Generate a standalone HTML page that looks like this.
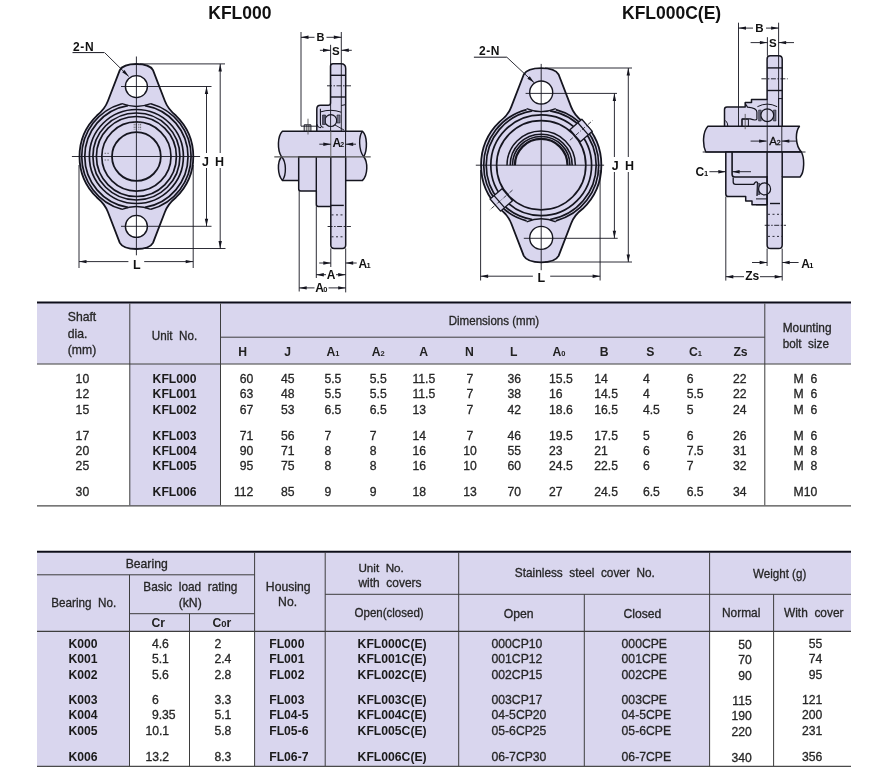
<!DOCTYPE html>
<html><head><meta charset="utf-8"><style>
html,body{margin:0;padding:0;background:#fff;width:887px;height:774px;overflow:hidden}
svg{display:block;font-family:"Liberation Sans",sans-serif;will-change:transform}
</style></head><body>
<svg width="887" height="774" viewBox="0 0 887 774">
<rect width="887" height="774" fill="#fff"/>
<text x="208.30" y="18.90" font-size="17.5" font-weight="bold" text-anchor="start" fill="#111"  >KFL000</text>
<text x="622.00" y="18.60" font-size="17.5" font-weight="bold" text-anchor="start" fill="#111"  >KFL000C(E)</text>
<path d="M119.80,70.10 C122.80,64.60 129.80,64.00 136.40,64.00 C143.00,64.00 150.00,64.60 153.00,70.10 L164.90,101.00 Q167.90,109.00 175.90,115.54 A56.90 56.90 0 0 1 175.90,197.46 Q167.90,204.00 164.90,212.00 L153.00,242.90 C150.00,248.40 143.00,249.00 136.40,249.00 C129.80,249.00 122.80,248.40 119.80,242.90 L107.90,212.00 Q104.90,204.00 96.90,197.46 A56.90 56.90 0 0 1 96.90,115.54 Q104.90,109.00 107.90,101.00 Z" fill="#d9d6ee" stroke="#15151f" stroke-width="1.8" stroke-linejoin="round" />
<circle cx="136.40" cy="86.60" r="11.00" fill="#fff" stroke="#15151f" stroke-width="1.4"/>
<circle cx="136.40" cy="226.40" r="11.00" fill="#fff" stroke="#15151f" stroke-width="1.4"/>
<circle cx="136.40" cy="156.50" r="24.40" fill="none" stroke="#15151f" stroke-width="1.8"/>
<circle cx="136.40" cy="156.50" r="34.60" fill="none" stroke="#15151f" stroke-width="1.7"/>
<circle cx="136.40" cy="156.50" r="40.00" fill="none" stroke="#15151f" stroke-width="1.7"/>
<circle cx="136.40" cy="156.50" r="43.50" fill="none" stroke="#15151f" stroke-width="1.7"/>
<circle cx="136.40" cy="156.50" r="47.00" fill="none" stroke="#15151f" stroke-width="1.7"/>
<path d="M127.90,105.60 A51.60 51.60 0 0 0 127.90,207.40" fill="none" stroke="#15151f" stroke-width="1.7"/>
<path d="M144.90,105.60 A51.60 51.60 0 0 1 144.90,207.40" fill="none" stroke="#15151f" stroke-width="1.7"/>
<path d="M121.90,103.76 A54.70 54.70 0 0 0 121.90,209.24" fill="none" stroke="#15151f" stroke-width="1.7"/>
<path d="M150.90,103.76 A54.70 54.70 0 0 1 150.90,209.24" fill="none" stroke="#15151f" stroke-width="1.7"/>
<path d="M121.90,209.30 Q136.40,203.70 150.90,209.30" fill="none" stroke="#15151f" stroke-width="1.4"/>
<path d="M121.90,103.70 Q136.40,109.30 150.90,103.70" fill="none" stroke="#15151f" stroke-width="1.4"/>
<line x1="134.20" y1="121.00" x2="134.20" y2="130.00" stroke="#555" stroke-width="0.8" stroke-dasharray="1.6 1.2"/>
<line x1="136.00" y1="121.00" x2="136.00" y2="130.00" stroke="#555" stroke-width="0.8" stroke-dasharray="1.6 1.2"/>
<line x1="138.80" y1="121.00" x2="138.80" y2="130.00" stroke="#555" stroke-width="0.8" stroke-dasharray="1.6 1.2"/>
<line x1="140.60" y1="121.00" x2="140.60" y2="130.00" stroke="#555" stroke-width="0.8" stroke-dasharray="1.6 1.2"/>
<line x1="104.50" y1="153.30" x2="110.00" y2="153.30" stroke="#555" stroke-width="0.8" stroke-dasharray="1.6 1.2"/>
<line x1="104.50" y1="160.00" x2="110.00" y2="160.00" stroke="#555" stroke-width="0.8" stroke-dasharray="1.6 1.2"/>
<line x1="136.40" y1="56.50" x2="136.40" y2="255.30" stroke="#15151f" stroke-width="0.9" />
<line x1="71.90" y1="156.50" x2="200.10" y2="156.50" stroke="#15151f" stroke-width="0.9" />
<line x1="121.00" y1="86.50" x2="211.50" y2="86.50" stroke="#15151f" stroke-width="0.9" />
<line x1="121.00" y1="226.30" x2="211.50" y2="226.30" stroke="#15151f" stroke-width="0.9" />
<line x1="140.00" y1="63.90" x2="225.00" y2="63.90" stroke="#15151f" stroke-width="0.9" />
<line x1="140.00" y1="248.50" x2="225.50" y2="248.50" stroke="#15151f" stroke-width="0.9" />
<line x1="206.50" y1="86.50" x2="206.50" y2="153.00" stroke="#15151f" stroke-width="0.9" />
<line x1="206.50" y1="168.00" x2="206.50" y2="226.30" stroke="#15151f" stroke-width="0.9" />
<path d="M206.50,86.50 L208.20,94.00 L204.80,94.00 Z" fill="#15151f"/>
<path d="M206.50,226.30 L204.80,218.80 L208.20,218.80 Z" fill="#15151f"/>
<line x1="220.20" y1="63.90" x2="220.20" y2="153.00" stroke="#15151f" stroke-width="0.9" />
<line x1="220.20" y1="168.00" x2="220.20" y2="248.50" stroke="#15151f" stroke-width="0.9" />
<path d="M220.20,63.90 L221.90,71.40 L218.50,71.40 Z" fill="#15151f"/>
<path d="M220.20,248.50 L218.50,241.00 L221.90,241.00 Z" fill="#15151f"/>
<text x="205.50" y="165.60" font-size="12.5" font-weight="bold" text-anchor="middle" fill="#111"  >J</text>
<text x="219.60" y="165.60" font-size="12.5" font-weight="bold" text-anchor="middle" fill="#111"  >H</text>
<line x1="79.00" y1="165.00" x2="79.00" y2="268.00" stroke="#15151f" stroke-width="0.9" />
<line x1="193.20" y1="165.00" x2="193.20" y2="268.00" stroke="#15151f" stroke-width="0.9" />
<line x1="79.00" y1="261.60" x2="128.40" y2="261.60" stroke="#15151f" stroke-width="0.9" />
<line x1="144.20" y1="261.60" x2="193.20" y2="261.60" stroke="#15151f" stroke-width="0.9" />
<path d="M79.00,261.60 L86.50,259.90 L86.50,263.30 Z" fill="#15151f"/>
<path d="M193.20,261.60 L185.70,263.30 L185.70,259.90 Z" fill="#15151f"/>
<text x="136.80" y="268.50" font-size="12.5" font-weight="bold" text-anchor="middle" fill="#111"  >L</text>
<text x="72.90" y="50.80" font-size="12" font-weight="bold" text-anchor="start" fill="#111"  letter-spacing="0.7">2-N</text>
<line x1="72.50" y1="52.60" x2="104.30" y2="52.60" stroke="#15151f" stroke-width="1.0" />
<line x1="104.60" y1="52.60" x2="128.70" y2="76.40" stroke="#15151f" stroke-width="0.9" />
<path d="M128.70,76.40 L122.17,72.34 L124.56,69.92 Z" fill="#15151f"/>
<path d="M523.77,74.48 C526.92,68.70 534.27,68.07 541.20,68.07 C548.13,68.07 555.48,68.70 558.63,74.48 L571.12,106.92 Q574.28,115.32 582.68,121.62 A60.16 60.16 0 0 1 582.68,208.78 Q574.28,215.07 571.12,223.47 L558.63,255.92 C555.48,261.69 548.13,262.32 541.20,262.32 C534.27,262.32 526.92,261.69 523.77,255.92 L511.28,223.47 Q508.13,215.07 499.73,208.78 A60.16 60.16 0 0 1 499.73,121.62 Q508.13,115.32 511.28,106.92 Z" fill="#d9d6ee" stroke="#15151f" stroke-width="1.8" stroke-linejoin="round" />
<circle cx="541.20" cy="92.50" r="11.50" fill="#fff" stroke="#15151f" stroke-width="1.4"/>
<circle cx="541.20" cy="237.90" r="11.50" fill="#fff" stroke="#15151f" stroke-width="1.4"/>
<circle cx="541.20" cy="165.20" r="44.60" fill="none" stroke="#15151f" stroke-width="1.7"/>
<circle cx="541.20" cy="165.20" r="50.40" fill="none" stroke="#15151f" stroke-width="1.7"/>
<path d="M532.28,110.93 A55.00 55.00 0 0 0 532.28,219.47" fill="none" stroke="#15151f" stroke-width="1.7"/>
<path d="M550.12,110.93 A55.00 55.00 0 0 1 550.12,219.47" fill="none" stroke="#15151f" stroke-width="1.7"/>
<path d="M526.61,109.58 A57.50 57.50 0 0 0 526.61,220.82" fill="none" stroke="#15151f" stroke-width="1.7"/>
<path d="M555.80,109.58 A57.50 57.50 0 0 1 555.80,220.82" fill="none" stroke="#15151f" stroke-width="1.7"/>
<path d="M526.61,221.79 Q541.20,215.70 555.80,221.79" fill="none" stroke="#15151f" stroke-width="1.4"/>
<path d="M526.61,108.60 Q541.20,114.69 555.80,108.60" fill="none" stroke="#15151f" stroke-width="1.4"/>
<path d="M507.00,165.20 A34.2 34.2 0 0 1 575.40,165.20" fill="none" stroke="#15151f" stroke-width="1.5"/>
<path d="M510.20,165.20 A31.0 31.0 0 0 1 572.20,165.20" fill="none" stroke="#15151f" stroke-width="1.6"/>
<path d="M512.50,165.20 A28.7 28.7 0 0 1 569.90,165.20" fill="none" stroke="#15151f" stroke-width="1.6"/>
<path d="M514.90,165.20 A26.3 26.3 0 0 1 567.50,165.20" fill="none" stroke="#15151f" stroke-width="2.2"/>
<path d="M569.91,129.64 L581.84,119.27 L592.33,131.35 L580.41,141.72 Z" fill="#d9d6ee" stroke="#15151f" stroke-width="1.3" stroke-linejoin="round" />
<line x1="569.88" y1="140.27" x2="592.52" y2="120.59" stroke="#15151f" stroke-width="0.8" stroke-dasharray="4 1.5 1 1.5"/>
<line x1="577.84" y1="122.75" x2="588.33" y2="134.83" stroke="#15151f" stroke-width="1.3" />
<path d="M512.49,200.76 L500.56,211.13 L490.07,199.05 L501.99,188.68 Z" fill="#d9d6ee" stroke="#15151f" stroke-width="1.3" stroke-linejoin="round" />
<line x1="512.52" y1="190.13" x2="489.88" y2="209.81" stroke="#15151f" stroke-width="0.8" stroke-dasharray="4 1.5 1 1.5"/>
<line x1="504.56" y1="207.65" x2="494.07" y2="195.57" stroke="#15151f" stroke-width="1.3" />
<line x1="541.20" y1="63.90" x2="541.20" y2="270.20" stroke="#15151f" stroke-width="0.9" />
<line x1="475.80" y1="165.20" x2="604.10" y2="165.20" stroke="#15151f" stroke-width="0.9" />
<line x1="525.60" y1="93.40" x2="617.00" y2="93.40" stroke="#15151f" stroke-width="0.9" />
<line x1="523.80" y1="238.30" x2="617.70" y2="238.30" stroke="#15151f" stroke-width="0.9" />
<line x1="545.00" y1="68.00" x2="632.00" y2="68.00" stroke="#15151f" stroke-width="0.9" />
<line x1="545.00" y1="262.00" x2="632.00" y2="262.00" stroke="#15151f" stroke-width="0.9" />
<line x1="614.40" y1="93.40" x2="614.40" y2="157.00" stroke="#15151f" stroke-width="0.9" />
<line x1="614.40" y1="172.00" x2="614.40" y2="238.30" stroke="#15151f" stroke-width="0.9" />
<path d="M614.40,93.40 L616.10,100.90 L612.70,100.90 Z" fill="#15151f"/>
<path d="M614.40,238.30 L612.70,230.80 L616.10,230.80 Z" fill="#15151f"/>
<line x1="628.30" y1="68.00" x2="628.30" y2="157.00" stroke="#15151f" stroke-width="0.9" />
<line x1="628.30" y1="172.00" x2="628.30" y2="262.00" stroke="#15151f" stroke-width="0.9" />
<path d="M628.30,68.00 L630.00,75.50 L626.60,75.50 Z" fill="#15151f"/>
<path d="M628.30,262.00 L626.60,254.50 L630.00,254.50 Z" fill="#15151f"/>
<text x="615.20" y="169.80" font-size="12.5" font-weight="bold" text-anchor="middle" fill="#111"  >J</text>
<text x="629.40" y="169.80" font-size="12.5" font-weight="bold" text-anchor="middle" fill="#111"  >H</text>
<line x1="480.60" y1="170.00" x2="480.60" y2="280.50" stroke="#15151f" stroke-width="0.9" />
<line x1="600.10" y1="170.00" x2="600.10" y2="280.50" stroke="#15151f" stroke-width="0.9" />
<line x1="480.60" y1="276.20" x2="532.90" y2="276.20" stroke="#15151f" stroke-width="0.9" />
<line x1="550.20" y1="276.20" x2="600.10" y2="276.20" stroke="#15151f" stroke-width="0.9" />
<path d="M480.60,276.20 L488.10,274.50 L488.10,277.90 Z" fill="#15151f"/>
<path d="M600.10,276.20 L592.60,277.90 L592.60,274.50 Z" fill="#15151f"/>
<text x="541.40" y="281.80" font-size="12.5" font-weight="bold" text-anchor="middle" fill="#111"  >L</text>
<text x="479.10" y="55.00" font-size="12" font-weight="bold" text-anchor="start" fill="#111"  letter-spacing="0.5">2-N</text>
<line x1="473.90" y1="57.20" x2="506.80" y2="57.20" stroke="#15151f" stroke-width="1.0" />
<line x1="506.80" y1="57.20" x2="534.00" y2="82.60" stroke="#15151f" stroke-width="0.9" />
<path d="M534.00,82.60 L527.39,78.67 L529.73,76.21 Z" fill="#15151f"/>
<path d="M282.4,131.2 L362.5,131.2 C367.5,136 367.5,150 363.7,156.8 C368,162 368,175 362.5,180.4 L282.4,180.4 C277.5,175 277,162 281.6,156.8 C277,150 277.5,136 282.4,131.2 Z" fill="#d9d6ee" stroke="#15151f" stroke-width="1.5" stroke-linejoin="round" />
<path d="M362.5,131.2 C358.5,136 358.5,150 363.7,156.8" fill="none" stroke="#15151f" stroke-width="1.4" stroke-linejoin="round" />
<path d="M281.6,156.8 C286.5,162 286.5,175 282.4,180.4" fill="none" stroke="#15151f" stroke-width="1.4" stroke-linejoin="round" />
<path d="M298.7,156.8 L298.7,189 Q298.7,190.9 300.6,190.9 L316.3,190.9 L316.3,204.5 Q316.3,206.4 318.2,206.4 L330.8,206.6 L330.8,245 Q330.8,248.4 334.2,248.4 L342.3,248.4 Q345.7,248.4 345.7,245 L345.7,156.8 Z" fill="#d9d6ee" stroke="#15151f" stroke-width="1.5" stroke-linejoin="round" />
<line x1="316.30" y1="156.80" x2="316.30" y2="190.90" stroke="#15151f" stroke-width="1.4" />
<line x1="330.80" y1="156.80" x2="330.80" y2="206.60" stroke="#15151f" stroke-width="1.4" />
<path d="M345.7,131.2 L345.7,68.5 Q345.7,63.7 340.9,63.7 L333,63.7 Q330.5,63.7 330.5,66.2 L330.5,103 Q330.5,105.3 328.2,105.3 L320.5,105.3 Q316.8,105.3 316.8,109 L316.8,131.2 Z" fill="#d9d6ee" stroke="#15151f" stroke-width="1.5" stroke-linejoin="round" />
<line x1="330.50" y1="75.30" x2="345.70" y2="75.30" stroke="#15151f" stroke-width="1.4" />
<line x1="330.50" y1="97.00" x2="345.70" y2="97.00" stroke="#15151f" stroke-width="1.4" />
<path d="M320.4,108.8 L320.4,123 Q320.4,127.4 323.5,127.2" fill="none" stroke="#15151f" stroke-width="1.1" stroke-linejoin="round" />
<path d="M316.8,124 Q317.2,127.6 321,127.6" fill="none" stroke="#15151f" stroke-width="1.1" stroke-linejoin="round" />
<path d="M321,111.8 Q330.8,108.6 341.2,112.2" fill="none" stroke="#15151f" stroke-width="1.0" stroke-linejoin="round" />
<circle cx="330.8" cy="120.6" r="5.9" fill="#d9d6ee" stroke="#15151f" stroke-width="1.2"/>
<path d="M322.5,115 L325.5,115 L325.5,124.5 L322.5,124.5 Z" fill="#55556a" stroke="#15151f" stroke-width="0.6" stroke-linejoin="round" />
<path d="M337,115 L340,115 L340,123 L337,123 Z" fill="#77778a" stroke="#15151f" stroke-width="0.6" stroke-linejoin="round" />
<path d="M335,125 L344,130" fill="none" stroke="#15151f" stroke-width="0.9" stroke-linejoin="round" />
<line x1="341.30" y1="105.50" x2="345.70" y2="104.60" stroke="#15151f" stroke-width="1.0" />
<path d="M304.2,131.2 L304.2,124.8 L310.9,124.8 L310.9,131.2" fill="none" stroke="#15151f" stroke-width="1.0" stroke-linejoin="round" />
<line x1="306.30" y1="125.00" x2="306.30" y2="131.00" stroke="#15151f" stroke-width="0.7" />
<line x1="309.00" y1="125.00" x2="309.00" y2="131.00" stroke="#15151f" stroke-width="0.7" />
<line x1="308.00" y1="118.70" x2="308.00" y2="134.50" stroke="#444" stroke-width="0.8" />
<line x1="301.00" y1="126.20" x2="316.80" y2="126.20" stroke="#15151f" stroke-width="0.9" />
<line x1="327.00" y1="85.80" x2="351.20" y2="85.80" stroke="#15151f" stroke-width="0.9" stroke-dasharray="5 1.5 1.5 1.5"/>
<line x1="330.80" y1="205.40" x2="343.80" y2="205.40" stroke="#15151f" stroke-width="1.4" />
<line x1="331.50" y1="214.90" x2="345.00" y2="214.90" stroke="#15151f" stroke-width="0.9" stroke-dasharray="2 2.5"/>
<line x1="331.50" y1="236.80" x2="345.00" y2="236.80" stroke="#15151f" stroke-width="0.9" stroke-dasharray="2 2.5"/>
<line x1="327.60" y1="226.50" x2="350.90" y2="226.50" stroke="#15151f" stroke-width="0.9" stroke-dasharray="5 1.5 1.5 1.5"/>
<line x1="274.30" y1="156.90" x2="370.70" y2="156.90" stroke="#555" stroke-width="1.3" />
<line x1="301.00" y1="32.00" x2="301.00" y2="126.20" stroke="#15151f" stroke-width="0.9" />
<line x1="341.30" y1="32.00" x2="341.30" y2="131.20" stroke="#15151f" stroke-width="0.9" />
<line x1="330.60" y1="44.80" x2="330.60" y2="131.20" stroke="#15151f" stroke-width="0.9" />
<line x1="330.80" y1="131.20" x2="330.80" y2="156.80" stroke="#666" stroke-width="1.0" />
<line x1="299.20" y1="190.90" x2="299.20" y2="291.50" stroke="#15151f" stroke-width="0.9" />
<line x1="316.30" y1="206.40" x2="316.30" y2="278.00" stroke="#15151f" stroke-width="0.9" />
<line x1="330.80" y1="248.40" x2="330.80" y2="267.00" stroke="#15151f" stroke-width="0.9" />
<line x1="345.70" y1="248.40" x2="345.70" y2="292.40" stroke="#15151f" stroke-width="0.9" />
<line x1="301.00" y1="37.30" x2="314.50" y2="37.30" stroke="#15151f" stroke-width="0.9" />
<line x1="326.50" y1="37.30" x2="341.30" y2="37.30" stroke="#15151f" stroke-width="0.9" />
<path d="M301.00,37.30 L308.50,35.60 L308.50,39.00 Z" fill="#15151f"/>
<path d="M341.30,37.30 L333.80,39.00 L333.80,35.60 Z" fill="#15151f"/>
<text x="320.60" y="41.00" font-size="11" font-weight="bold" text-anchor="middle" fill="#111"  >B</text>
<line x1="319.90" y1="50.30" x2="330.50" y2="50.30" stroke="#15151f" stroke-width="0.9" />
<line x1="341.30" y1="50.30" x2="351.80" y2="50.30" stroke="#15151f" stroke-width="0.9" />
<path d="M330.50,50.30 L323.00,52.00 L323.00,48.60 Z" fill="#15151f"/>
<path d="M341.30,50.30 L348.80,48.60 L348.80,52.00 Z" fill="#15151f"/>
<text x="335.90" y="54.70" font-size="11.5" font-weight="bold" text-anchor="middle" fill="#111"  >S</text>
<line x1="319.30" y1="144.20" x2="330.80" y2="144.20" stroke="#15151f" stroke-width="0.9" />
<line x1="345.70" y1="144.20" x2="356.00" y2="144.20" stroke="#15151f" stroke-width="0.9" />
<path d="M330.80,144.20 L323.30,145.90 L323.30,142.50 Z" fill="#15151f"/>
<path d="M345.70,144.20 L353.20,142.50 L353.20,145.90 Z" fill="#15151f"/>
<text x="332.60" y="146.60" font-size="12" font-weight="bold" text-anchor="start" fill="#111"  >A</text>
<text x="340.20" y="146.60" font-size="7" font-weight="bold" text-anchor="start" fill="#111"  >2</text>
<line x1="345.60" y1="131.20" x2="345.60" y2="156.80" stroke="#15151f" stroke-width="1.0" />
<line x1="319.20" y1="263.00" x2="330.80" y2="263.00" stroke="#15151f" stroke-width="0.9" />
<line x1="345.70" y1="263.00" x2="356.70" y2="263.00" stroke="#15151f" stroke-width="0.9" />
<path d="M330.80,263.00 L323.30,264.70 L323.30,261.30 Z" fill="#15151f"/>
<path d="M345.70,263.00 L353.20,261.30 L353.20,264.70 Z" fill="#15151f"/>
<text x="358.60" y="267.80" font-size="12" font-weight="bold" text-anchor="start" fill="#111"  >A</text>
<text x="366.60" y="267.80" font-size="7.5" font-weight="bold" text-anchor="start" fill="#111"  >1</text>
<line x1="316.30" y1="274.70" x2="326.00" y2="274.70" stroke="#15151f" stroke-width="0.9" />
<line x1="336.00" y1="274.70" x2="345.70" y2="274.70" stroke="#15151f" stroke-width="0.9" />
<path d="M316.30,274.70 L323.80,273.00 L323.80,276.40 Z" fill="#15151f"/>
<path d="M345.70,274.70 L338.20,276.40 L338.20,273.00 Z" fill="#15151f"/>
<text x="331.20" y="279.10" font-size="12" font-weight="bold" text-anchor="middle" fill="#111"  >A</text>
<line x1="299.20" y1="287.90" x2="314.50" y2="287.90" stroke="#15151f" stroke-width="0.9" />
<line x1="328.50" y1="287.90" x2="345.70" y2="287.90" stroke="#15151f" stroke-width="0.9" />
<path d="M299.20,287.90 L306.70,286.20 L306.70,289.60 Z" fill="#15151f"/>
<path d="M345.70,287.90 L338.20,289.60 L338.20,286.20 Z" fill="#15151f"/>
<text x="315.20" y="291.70" font-size="12" font-weight="bold" text-anchor="start" fill="#111"  >A</text>
<text x="323.20" y="291.70" font-size="7.5" font-weight="bold" text-anchor="start" fill="#111"  >0</text>
<path d="M707.9,126.2 L799.4,126.2 C795.2,132 795,145 801.4,152 L705.8,152 C702.5,145 702.5,132 707.9,126.2 Z" fill="#d9d6ee" stroke="#15151f" stroke-width="1.5" stroke-linejoin="round" />
<path d="M725.8,152 L725.8,193.9 Q725.8,196.6 728.5,196.6 L745.7,196.6 L745.7,201.1 L752,201.1 L752,204.7 L767.1,204.7 L767.1,245 Q767.1,248.6 770.7,248.6 L778.6,248.6 Q782.2,248.6 782.2,245 L782.2,177 L800.1,177 C804.6,172 804.6,158 801.4,152 Z" fill="#d9d6ee" stroke="#15151f" stroke-width="1.5" stroke-linejoin="round" />
<line x1="767.10" y1="152.00" x2="767.10" y2="204.70" stroke="#15151f" stroke-width="1.5" />
<line x1="782.20" y1="152.00" x2="782.20" y2="177.00" stroke="#15151f" stroke-width="1.5" />
<path d="M732.1,152 L732.1,174.3 Q732.1,177 734.8,177 L767.1,177" fill="none" stroke="#15151f" stroke-width="1.6" stroke-linejoin="round" />
<path d="M733.2,177.5 L733.2,182 Q733.2,184.4 735.6,184.4 L753.8,184.4 Q755.5,180.8 757.5,182.5 L757,196" fill="none" stroke="#15151f" stroke-width="1.3" stroke-linejoin="round" />
<path d="M757.5,183.5 L760,183.5 L760,194.5 L757.5,194.5 Z" fill="#66667a" stroke="#15151f" stroke-width="0.5" stroke-linejoin="round" />
<circle cx="764.6" cy="188.9" r="6" fill="#d9d6ee" stroke="#15151f" stroke-width="1.2"/>
<line x1="767.10" y1="176.00" x2="767.10" y2="204.70" stroke="#15151f" stroke-width="1.5" />
<line x1="756.00" y1="198.90" x2="767.10" y2="198.90" stroke="#15151f" stroke-width="1.0" />
<line x1="756.00" y1="204.70" x2="767.10" y2="204.70" stroke="#15151f" stroke-width="1.2" />
<path d="M724.5,126.2 L724.5,109.6 Q724.5,107.1 727,107.1 L745.2,107.1 L745.2,102.6 L751.5,102.6 L751.5,99.5 L767.1,99.5 L767.1,59 Q767.1,55.8 770.3,55.8 L778.7,55.8 Q782.2,55.8 782.2,59.3 L782.2,126.2 Z" fill="#d9d6ee" stroke="#15151f" stroke-width="1.5" stroke-linejoin="round" />
<line x1="767.10" y1="67.90" x2="782.20" y2="67.90" stroke="#15151f" stroke-width="1.4" />
<line x1="767.10" y1="90.50" x2="782.20" y2="90.50" stroke="#15151f" stroke-width="1.4" />
<line x1="778.10" y1="98.60" x2="782.20" y2="98.60" stroke="#15151f" stroke-width="1.0" />
<path d="M758.6,110 L761.2,110 L761.2,121 L758.6,121 Z" fill="#66667a" stroke="#15151f" stroke-width="0.5" stroke-linejoin="round" />
<path d="M773.4,110 L776,110 L776,121 L773.4,121 Z" fill="#66667a" stroke="#15151f" stroke-width="0.5" stroke-linejoin="round" />
<circle cx="767.3" cy="115.2" r="6.4" fill="#d9d6ee" stroke="#15151f" stroke-width="1.2"/>
<path d="M757.4,106.7 Q767.2,101.5 777.2,106.7" fill="none" stroke="#15151f" stroke-width="1.0" stroke-linejoin="round" />
<path d="M745.2,103.5 L747.5,107.1 Q756.9,108 756.9,112 L756.9,119 Q756,121 750.2,118.9 L742,118.9 L742,126.2" fill="none" stroke="#15151f" stroke-width="1.2" stroke-linejoin="round" />
<path d="M742,126.2 L742,119.2 L748.4,119.2 L748.4,126.2" fill="none" stroke="#15151f" stroke-width="1.0" stroke-linejoin="round" />
<line x1="745.20" y1="113.90" x2="745.20" y2="129.20" stroke="#444" stroke-width="0.8" />
<path d="M725.5,120.5 Q728,123 727.8,126" fill="none" stroke="#15151f" stroke-width="1.0" stroke-linejoin="round" />
<line x1="778.60" y1="98.60" x2="778.60" y2="126.20" stroke="#15151f" stroke-width="0.9" />
<line x1="770.00" y1="203.50" x2="780.00" y2="203.50" stroke="#15151f" stroke-width="1.4" />
<line x1="768.00" y1="214.30" x2="782.00" y2="214.30" stroke="#15151f" stroke-width="0.9" stroke-dasharray="2 2.5"/>
<line x1="768.00" y1="236.40" x2="782.00" y2="236.40" stroke="#15151f" stroke-width="0.9" stroke-dasharray="2 2.5"/>
<line x1="764.70" y1="225.30" x2="786.00" y2="225.30" stroke="#15151f" stroke-width="0.9" stroke-dasharray="5 1.5 1.5 1.5"/>
<line x1="761.40" y1="78.80" x2="787.70" y2="78.80" stroke="#15151f" stroke-width="0.9" stroke-dasharray="5 1.5 1.5 1.5"/>
<line x1="702.70" y1="152.00" x2="805.50" y2="152.00" stroke="#15151f" stroke-width="0.9" />
<line x1="738.50" y1="22.70" x2="738.50" y2="126.20" stroke="#15151f" stroke-width="0.9" />
<line x1="778.60" y1="22.70" x2="778.60" y2="126.20" stroke="#15151f" stroke-width="0.9" />
<line x1="767.40" y1="37.20" x2="767.40" y2="55.80" stroke="#15151f" stroke-width="0.9" />
<line x1="767.10" y1="248.60" x2="767.10" y2="266.00" stroke="#15151f" stroke-width="0.9" />
<line x1="782.20" y1="248.60" x2="782.20" y2="280.60" stroke="#15151f" stroke-width="0.9" />
<line x1="725.80" y1="196.60" x2="725.80" y2="280.60" stroke="#15151f" stroke-width="0.9" />
<line x1="767.20" y1="99.50" x2="767.20" y2="152.00" stroke="#15151f" stroke-width="0.9" />
<line x1="781.80" y1="126.20" x2="781.80" y2="152.00" stroke="#15151f" stroke-width="0.9" />
<line x1="738.50" y1="28.10" x2="753.00" y2="28.10" stroke="#15151f" stroke-width="0.9" />
<line x1="766.00" y1="28.10" x2="778.60" y2="28.10" stroke="#15151f" stroke-width="0.9" />
<path d="M738.50,28.10 L746.00,26.40 L746.00,29.80 Z" fill="#15151f"/>
<path d="M778.60,28.10 L771.10,29.80 L771.10,26.40 Z" fill="#15151f"/>
<text x="759.50" y="31.90" font-size="11.5" font-weight="bold" text-anchor="middle" fill="#111"  >B</text>
<line x1="750.60" y1="42.60" x2="767.40" y2="42.60" stroke="#15151f" stroke-width="0.9" />
<line x1="778.60" y1="42.60" x2="794.00" y2="42.60" stroke="#15151f" stroke-width="0.9" />
<path d="M767.40,42.60 L759.90,44.30 L759.90,40.90 Z" fill="#15151f"/>
<path d="M778.60,42.60 L786.10,40.90 L786.10,44.30 Z" fill="#15151f"/>
<text x="772.80" y="46.60" font-size="11.5" font-weight="bold" text-anchor="middle" fill="#111"  >S</text>
<line x1="750.60" y1="141.10" x2="766.60" y2="141.10" stroke="#15151f" stroke-width="0.9" />
<line x1="781.80" y1="141.10" x2="796.00" y2="141.10" stroke="#15151f" stroke-width="0.9" />
<path d="M766.60,141.10 L759.10,142.80 L759.10,139.40 Z" fill="#15151f"/>
<path d="M781.80,141.10 L789.30,139.40 L789.30,142.80 Z" fill="#15151f"/>
<text x="769.30" y="145.00" font-size="11.5" font-weight="normal" text-anchor="start" fill="#111" stroke="#111" stroke-width="0.3" >A</text>
<text x="776.80" y="145.00" font-size="7" font-weight="normal" text-anchor="start" fill="#111" stroke="#111" stroke-width="0.3" >2</text>
<line x1="709.40" y1="171.70" x2="725.80" y2="171.70" stroke="#15151f" stroke-width="0.9" />
<path d="M725.80,171.70 L718.30,173.40 L718.30,170.00 Z" fill="#15151f"/>
<line x1="732.10" y1="171.70" x2="751.00" y2="171.70" stroke="#15151f" stroke-width="0.9" />
<path d="M732.10,171.70 L739.60,170.00 L739.60,173.40 Z" fill="#15151f"/>
<text x="695.60" y="175.90" font-size="12" font-weight="bold" text-anchor="start" fill="#111"  >C</text>
<text x="703.90" y="175.90" font-size="7.5" font-weight="bold" text-anchor="start" fill="#111"  >1</text>
<line x1="752.00" y1="262.50" x2="767.10" y2="262.50" stroke="#15151f" stroke-width="0.9" />
<path d="M767.10,262.50 L759.60,264.20 L759.60,260.80 Z" fill="#15151f"/>
<line x1="782.20" y1="262.50" x2="798.60" y2="262.50" stroke="#15151f" stroke-width="0.9" />
<path d="M782.20,262.50 L789.70,260.80 L789.70,264.20 Z" fill="#15151f"/>
<text x="801.30" y="268.00" font-size="12" font-weight="bold" text-anchor="start" fill="#111"  >A</text>
<text x="809.30" y="268.00" font-size="7.5" font-weight="bold" text-anchor="start" fill="#111"  >1</text>
<line x1="725.80" y1="276.70" x2="744.00" y2="276.70" stroke="#15151f" stroke-width="0.9" />
<line x1="760.00" y1="276.70" x2="782.20" y2="276.70" stroke="#15151f" stroke-width="0.9" />
<path d="M725.80,276.70 L733.30,275.00 L733.30,278.40 Z" fill="#15151f"/>
<path d="M782.20,276.70 L774.70,278.40 L774.70,275.00 Z" fill="#15151f"/>
<text x="745.20" y="280.20" font-size="12" font-weight="bold" text-anchor="start" fill="#111"  >Zs</text>
<rect x="37.00" y="303.20" width="814.00" height="60.60" fill="#d9d6ee"/>
<rect x="129.80" y="364.00" width="90.60" height="142.00" fill="#d9d6ee"/>
<line x1="37.00" y1="302.50" x2="851.00" y2="302.50" stroke="#0d0d1a" stroke-width="2.0" />
<line x1="37.00" y1="364.00" x2="851.00" y2="364.00" stroke="#3d3d3d" stroke-width="1.2" />
<line x1="37.00" y1="505.80" x2="851.00" y2="505.80" stroke="#4a4a4a" stroke-width="1.2" />
<line x1="220.50" y1="337.20" x2="764.80" y2="337.20" stroke="#3d3d3d" stroke-width="1.0" />
<line x1="129.80" y1="303.50" x2="129.80" y2="505.20" stroke="#3d3d3d" stroke-width="1.0" />
<line x1="220.50" y1="303.50" x2="220.50" y2="505.20" stroke="#3d3d3d" stroke-width="1.0" />
<line x1="764.80" y1="303.50" x2="764.80" y2="505.20" stroke="#3d3d3d" stroke-width="1.0" />
<text x="67.80" y="320.70" font-size="12.2" font-weight="normal" text-anchor="start" fill="#262626" stroke="#262626" stroke-width="0.3" >Shaft</text>
<text x="67.80" y="337.60" font-size="12.2" font-weight="normal" text-anchor="start" fill="#262626" stroke="#262626" stroke-width="0.3" >dia.</text>
<text x="67.80" y="354.20" font-size="12.2" font-weight="normal" text-anchor="start" fill="#262626" stroke="#262626" stroke-width="0.3" >(mm)</text>
<text x="151.80" y="340.40" font-size="12.2" font-weight="normal" text-anchor="start" fill="#262626" stroke="#262626" stroke-width="0.3" textLength="45.4" lengthAdjust="spacingAndGlyphs">Unit&#160;&#160;No.</text>
<text x="448.70" y="324.80" font-size="12.2" font-weight="normal" text-anchor="start" fill="#262626" stroke="#262626" stroke-width="0.3" textLength="90.5" lengthAdjust="spacingAndGlyphs">Dimensions (mm)</text>
<text x="782.70" y="331.70" font-size="12.2" font-weight="normal" text-anchor="start" fill="#262626" stroke="#262626" stroke-width="0.3" textLength="48.8" lengthAdjust="spacingAndGlyphs">Mounting</text>
<text x="782.70" y="347.60" font-size="12.2" font-weight="normal" text-anchor="start" fill="#262626" stroke="#262626" stroke-width="0.3" textLength="46.3" lengthAdjust="spacingAndGlyphs">bolt&#160;&#160;size</text>
<text x="242.70" y="355.50" font-size="12.2" font-weight="bold" text-anchor="middle" fill="#222"  >H</text>
<text x="287.60" y="355.50" font-size="12.2" font-weight="bold" text-anchor="middle" fill="#222"  >J</text>
<text x="333.00" y="355.5" font-size="12.2" font-weight="bold" text-anchor="middle" fill="#222">A<tspan font-size="7.5">1</tspan></text>
<text x="378.30" y="355.5" font-size="12.2" font-weight="bold" text-anchor="middle" fill="#222">A<tspan font-size="7.5">2</tspan></text>
<text x="423.70" y="355.50" font-size="12.2" font-weight="bold" text-anchor="middle" fill="#222"  >A</text>
<text x="469.30" y="355.50" font-size="12.2" font-weight="bold" text-anchor="middle" fill="#222"  >N</text>
<text x="513.70" y="355.50" font-size="12.2" font-weight="bold" text-anchor="middle" fill="#222"  >L</text>
<text x="559.00" y="355.5" font-size="12.2" font-weight="bold" text-anchor="middle" fill="#222">A<tspan font-size="7.5">0</tspan></text>
<text x="604.20" y="355.50" font-size="12.2" font-weight="bold" text-anchor="middle" fill="#222"  >B</text>
<text x="650.30" y="355.50" font-size="12.2" font-weight="bold" text-anchor="middle" fill="#222"  >S</text>
<text x="695.40" y="355.5" font-size="12.2" font-weight="bold" text-anchor="middle" fill="#222">C<tspan font-size="7.5">1</tspan></text>
<text x="740.50" y="355.5" font-size="12.2" font-weight="bold" text-anchor="middle" fill="#222">Zs</text>
<text x="82.40" y="382.60" font-size="12.2" font-weight="normal" text-anchor="middle" fill="#262626" stroke="#262626" stroke-width="0.3" >10</text>
<text x="152.60" y="382.60" font-size="12.2" font-weight="bold" text-anchor="start" fill="#1a1a1a"  >KFL000</text>
<text x="253.40" y="382.60" font-size="12.2" font-weight="normal" text-anchor="end" fill="#262626" stroke="#262626" stroke-width="0.3" >60</text>
<text x="281.10" y="382.60" font-size="12.2" font-weight="normal" text-anchor="start" fill="#262626" stroke="#262626" stroke-width="0.3" >45</text>
<text x="324.40" y="382.60" font-size="12.2" font-weight="normal" text-anchor="start" fill="#262626" stroke="#262626" stroke-width="0.3" >5.5</text>
<text x="369.80" y="382.60" font-size="12.2" font-weight="normal" text-anchor="start" fill="#262626" stroke="#262626" stroke-width="0.3" >5.5</text>
<text x="412.40" y="382.60" font-size="12.2" font-weight="normal" text-anchor="start" fill="#262626" stroke="#262626" stroke-width="0.3" >11.5</text>
<text x="470.00" y="382.60" font-size="12.2" font-weight="normal" text-anchor="middle" fill="#262626" stroke="#262626" stroke-width="0.3" >7</text>
<text x="507.50" y="382.60" font-size="12.2" font-weight="normal" text-anchor="start" fill="#262626" stroke="#262626" stroke-width="0.3" >36</text>
<text x="549.10" y="382.60" font-size="12.2" font-weight="normal" text-anchor="start" fill="#262626" stroke="#262626" stroke-width="0.3" >15.5</text>
<text x="594.30" y="382.60" font-size="12.2" font-weight="normal" text-anchor="start" fill="#262626" stroke="#262626" stroke-width="0.3" >14</text>
<text x="642.90" y="382.60" font-size="12.2" font-weight="normal" text-anchor="start" fill="#262626" stroke="#262626" stroke-width="0.3" >4</text>
<text x="686.70" y="382.60" font-size="12.2" font-weight="normal" text-anchor="start" fill="#262626" stroke="#262626" stroke-width="0.3" >6</text>
<text x="733.10" y="382.60" font-size="12.2" font-weight="normal" text-anchor="start" fill="#262626" stroke="#262626" stroke-width="0.3" >22</text>
<text x="793.60" y="382.60" font-size="12.2" font-weight="normal" text-anchor="start" fill="#262626" stroke="#262626" stroke-width="0.3" >M&#160;&#160;6</text>
<text x="82.40" y="398.10" font-size="12.2" font-weight="normal" text-anchor="middle" fill="#262626" stroke="#262626" stroke-width="0.3" >12</text>
<text x="152.60" y="398.10" font-size="12.2" font-weight="bold" text-anchor="start" fill="#1a1a1a"  >KFL001</text>
<text x="253.40" y="398.10" font-size="12.2" font-weight="normal" text-anchor="end" fill="#262626" stroke="#262626" stroke-width="0.3" >63</text>
<text x="281.10" y="398.10" font-size="12.2" font-weight="normal" text-anchor="start" fill="#262626" stroke="#262626" stroke-width="0.3" >48</text>
<text x="324.40" y="398.10" font-size="12.2" font-weight="normal" text-anchor="start" fill="#262626" stroke="#262626" stroke-width="0.3" >5.5</text>
<text x="369.80" y="398.10" font-size="12.2" font-weight="normal" text-anchor="start" fill="#262626" stroke="#262626" stroke-width="0.3" >5.5</text>
<text x="412.40" y="398.10" font-size="12.2" font-weight="normal" text-anchor="start" fill="#262626" stroke="#262626" stroke-width="0.3" >11.5</text>
<text x="470.00" y="398.10" font-size="12.2" font-weight="normal" text-anchor="middle" fill="#262626" stroke="#262626" stroke-width="0.3" >7</text>
<text x="507.50" y="398.10" font-size="12.2" font-weight="normal" text-anchor="start" fill="#262626" stroke="#262626" stroke-width="0.3" >38</text>
<text x="549.10" y="398.10" font-size="12.2" font-weight="normal" text-anchor="start" fill="#262626" stroke="#262626" stroke-width="0.3" >16</text>
<text x="594.30" y="398.10" font-size="12.2" font-weight="normal" text-anchor="start" fill="#262626" stroke="#262626" stroke-width="0.3" >14.5</text>
<text x="642.90" y="398.10" font-size="12.2" font-weight="normal" text-anchor="start" fill="#262626" stroke="#262626" stroke-width="0.3" >4</text>
<text x="686.70" y="398.10" font-size="12.2" font-weight="normal" text-anchor="start" fill="#262626" stroke="#262626" stroke-width="0.3" >5.5</text>
<text x="733.10" y="398.10" font-size="12.2" font-weight="normal" text-anchor="start" fill="#262626" stroke="#262626" stroke-width="0.3" >22</text>
<text x="793.60" y="398.10" font-size="12.2" font-weight="normal" text-anchor="start" fill="#262626" stroke="#262626" stroke-width="0.3" >M&#160;&#160;6</text>
<text x="82.40" y="413.50" font-size="12.2" font-weight="normal" text-anchor="middle" fill="#262626" stroke="#262626" stroke-width="0.3" >15</text>
<text x="152.60" y="413.50" font-size="12.2" font-weight="bold" text-anchor="start" fill="#1a1a1a"  >KFL002</text>
<text x="253.40" y="413.50" font-size="12.2" font-weight="normal" text-anchor="end" fill="#262626" stroke="#262626" stroke-width="0.3" >67</text>
<text x="281.10" y="413.50" font-size="12.2" font-weight="normal" text-anchor="start" fill="#262626" stroke="#262626" stroke-width="0.3" >53</text>
<text x="324.40" y="413.50" font-size="12.2" font-weight="normal" text-anchor="start" fill="#262626" stroke="#262626" stroke-width="0.3" >6.5</text>
<text x="369.80" y="413.50" font-size="12.2" font-weight="normal" text-anchor="start" fill="#262626" stroke="#262626" stroke-width="0.3" >6.5</text>
<text x="412.40" y="413.50" font-size="12.2" font-weight="normal" text-anchor="start" fill="#262626" stroke="#262626" stroke-width="0.3" >13</text>
<text x="470.00" y="413.50" font-size="12.2" font-weight="normal" text-anchor="middle" fill="#262626" stroke="#262626" stroke-width="0.3" >7</text>
<text x="507.50" y="413.50" font-size="12.2" font-weight="normal" text-anchor="start" fill="#262626" stroke="#262626" stroke-width="0.3" >42</text>
<text x="549.10" y="413.50" font-size="12.2" font-weight="normal" text-anchor="start" fill="#262626" stroke="#262626" stroke-width="0.3" >18.6</text>
<text x="594.30" y="413.50" font-size="12.2" font-weight="normal" text-anchor="start" fill="#262626" stroke="#262626" stroke-width="0.3" >16.5</text>
<text x="642.90" y="413.50" font-size="12.2" font-weight="normal" text-anchor="start" fill="#262626" stroke="#262626" stroke-width="0.3" >4.5</text>
<text x="686.70" y="413.50" font-size="12.2" font-weight="normal" text-anchor="start" fill="#262626" stroke="#262626" stroke-width="0.3" >5</text>
<text x="733.10" y="413.50" font-size="12.2" font-weight="normal" text-anchor="start" fill="#262626" stroke="#262626" stroke-width="0.3" >24</text>
<text x="793.60" y="413.50" font-size="12.2" font-weight="normal" text-anchor="start" fill="#262626" stroke="#262626" stroke-width="0.3" >M&#160;&#160;6</text>
<text x="82.40" y="439.50" font-size="12.2" font-weight="normal" text-anchor="middle" fill="#262626" stroke="#262626" stroke-width="0.3" >17</text>
<text x="152.60" y="439.50" font-size="12.2" font-weight="bold" text-anchor="start" fill="#1a1a1a"  >KFL003</text>
<text x="253.40" y="439.50" font-size="12.2" font-weight="normal" text-anchor="end" fill="#262626" stroke="#262626" stroke-width="0.3" >71</text>
<text x="281.10" y="439.50" font-size="12.2" font-weight="normal" text-anchor="start" fill="#262626" stroke="#262626" stroke-width="0.3" >56</text>
<text x="324.40" y="439.50" font-size="12.2" font-weight="normal" text-anchor="start" fill="#262626" stroke="#262626" stroke-width="0.3" >7</text>
<text x="369.80" y="439.50" font-size="12.2" font-weight="normal" text-anchor="start" fill="#262626" stroke="#262626" stroke-width="0.3" >7</text>
<text x="412.40" y="439.50" font-size="12.2" font-weight="normal" text-anchor="start" fill="#262626" stroke="#262626" stroke-width="0.3" >14</text>
<text x="470.00" y="439.50" font-size="12.2" font-weight="normal" text-anchor="middle" fill="#262626" stroke="#262626" stroke-width="0.3" >7</text>
<text x="507.50" y="439.50" font-size="12.2" font-weight="normal" text-anchor="start" fill="#262626" stroke="#262626" stroke-width="0.3" >46</text>
<text x="549.10" y="439.50" font-size="12.2" font-weight="normal" text-anchor="start" fill="#262626" stroke="#262626" stroke-width="0.3" >19.5</text>
<text x="594.30" y="439.50" font-size="12.2" font-weight="normal" text-anchor="start" fill="#262626" stroke="#262626" stroke-width="0.3" >17.5</text>
<text x="642.90" y="439.50" font-size="12.2" font-weight="normal" text-anchor="start" fill="#262626" stroke="#262626" stroke-width="0.3" >5</text>
<text x="686.70" y="439.50" font-size="12.2" font-weight="normal" text-anchor="start" fill="#262626" stroke="#262626" stroke-width="0.3" >6</text>
<text x="733.10" y="439.50" font-size="12.2" font-weight="normal" text-anchor="start" fill="#262626" stroke="#262626" stroke-width="0.3" >26</text>
<text x="793.60" y="439.50" font-size="12.2" font-weight="normal" text-anchor="start" fill="#262626" stroke="#262626" stroke-width="0.3" >M&#160;&#160;6</text>
<text x="82.40" y="454.90" font-size="12.2" font-weight="normal" text-anchor="middle" fill="#262626" stroke="#262626" stroke-width="0.3" >20</text>
<text x="152.60" y="454.90" font-size="12.2" font-weight="bold" text-anchor="start" fill="#1a1a1a"  >KFL004</text>
<text x="253.40" y="454.90" font-size="12.2" font-weight="normal" text-anchor="end" fill="#262626" stroke="#262626" stroke-width="0.3" >90</text>
<text x="281.10" y="454.90" font-size="12.2" font-weight="normal" text-anchor="start" fill="#262626" stroke="#262626" stroke-width="0.3" >71</text>
<text x="324.40" y="454.90" font-size="12.2" font-weight="normal" text-anchor="start" fill="#262626" stroke="#262626" stroke-width="0.3" >8</text>
<text x="369.80" y="454.90" font-size="12.2" font-weight="normal" text-anchor="start" fill="#262626" stroke="#262626" stroke-width="0.3" >8</text>
<text x="412.40" y="454.90" font-size="12.2" font-weight="normal" text-anchor="start" fill="#262626" stroke="#262626" stroke-width="0.3" >16</text>
<text x="470.00" y="454.90" font-size="12.2" font-weight="normal" text-anchor="middle" fill="#262626" stroke="#262626" stroke-width="0.3" >10</text>
<text x="507.50" y="454.90" font-size="12.2" font-weight="normal" text-anchor="start" fill="#262626" stroke="#262626" stroke-width="0.3" >55</text>
<text x="549.10" y="454.90" font-size="12.2" font-weight="normal" text-anchor="start" fill="#262626" stroke="#262626" stroke-width="0.3" >23</text>
<text x="594.30" y="454.90" font-size="12.2" font-weight="normal" text-anchor="start" fill="#262626" stroke="#262626" stroke-width="0.3" >21</text>
<text x="642.90" y="454.90" font-size="12.2" font-weight="normal" text-anchor="start" fill="#262626" stroke="#262626" stroke-width="0.3" >6</text>
<text x="686.70" y="454.90" font-size="12.2" font-weight="normal" text-anchor="start" fill="#262626" stroke="#262626" stroke-width="0.3" >7.5</text>
<text x="733.10" y="454.90" font-size="12.2" font-weight="normal" text-anchor="start" fill="#262626" stroke="#262626" stroke-width="0.3" >31</text>
<text x="793.60" y="454.90" font-size="12.2" font-weight="normal" text-anchor="start" fill="#262626" stroke="#262626" stroke-width="0.3" >M&#160;&#160;8</text>
<text x="82.40" y="469.90" font-size="12.2" font-weight="normal" text-anchor="middle" fill="#262626" stroke="#262626" stroke-width="0.3" >25</text>
<text x="152.60" y="469.90" font-size="12.2" font-weight="bold" text-anchor="start" fill="#1a1a1a"  >KFL005</text>
<text x="253.40" y="469.90" font-size="12.2" font-weight="normal" text-anchor="end" fill="#262626" stroke="#262626" stroke-width="0.3" >95</text>
<text x="281.10" y="469.90" font-size="12.2" font-weight="normal" text-anchor="start" fill="#262626" stroke="#262626" stroke-width="0.3" >75</text>
<text x="324.40" y="469.90" font-size="12.2" font-weight="normal" text-anchor="start" fill="#262626" stroke="#262626" stroke-width="0.3" >8</text>
<text x="369.80" y="469.90" font-size="12.2" font-weight="normal" text-anchor="start" fill="#262626" stroke="#262626" stroke-width="0.3" >8</text>
<text x="412.40" y="469.90" font-size="12.2" font-weight="normal" text-anchor="start" fill="#262626" stroke="#262626" stroke-width="0.3" >16</text>
<text x="470.00" y="469.90" font-size="12.2" font-weight="normal" text-anchor="middle" fill="#262626" stroke="#262626" stroke-width="0.3" >10</text>
<text x="507.50" y="469.90" font-size="12.2" font-weight="normal" text-anchor="start" fill="#262626" stroke="#262626" stroke-width="0.3" >60</text>
<text x="549.10" y="469.90" font-size="12.2" font-weight="normal" text-anchor="start" fill="#262626" stroke="#262626" stroke-width="0.3" >24.5</text>
<text x="594.30" y="469.90" font-size="12.2" font-weight="normal" text-anchor="start" fill="#262626" stroke="#262626" stroke-width="0.3" >22.5</text>
<text x="642.90" y="469.90" font-size="12.2" font-weight="normal" text-anchor="start" fill="#262626" stroke="#262626" stroke-width="0.3" >6</text>
<text x="686.70" y="469.90" font-size="12.2" font-weight="normal" text-anchor="start" fill="#262626" stroke="#262626" stroke-width="0.3" >7</text>
<text x="733.10" y="469.90" font-size="12.2" font-weight="normal" text-anchor="start" fill="#262626" stroke="#262626" stroke-width="0.3" >32</text>
<text x="793.60" y="469.90" font-size="12.2" font-weight="normal" text-anchor="start" fill="#262626" stroke="#262626" stroke-width="0.3" >M&#160;&#160;8</text>
<text x="82.40" y="496.10" font-size="12.2" font-weight="normal" text-anchor="middle" fill="#262626" stroke="#262626" stroke-width="0.3" >30</text>
<text x="152.60" y="496.10" font-size="12.2" font-weight="bold" text-anchor="start" fill="#1a1a1a"  >KFL006</text>
<text x="253.40" y="496.10" font-size="12.2" font-weight="normal" text-anchor="end" fill="#262626" stroke="#262626" stroke-width="0.3" >112</text>
<text x="281.10" y="496.10" font-size="12.2" font-weight="normal" text-anchor="start" fill="#262626" stroke="#262626" stroke-width="0.3" >85</text>
<text x="324.40" y="496.10" font-size="12.2" font-weight="normal" text-anchor="start" fill="#262626" stroke="#262626" stroke-width="0.3" >9</text>
<text x="369.80" y="496.10" font-size="12.2" font-weight="normal" text-anchor="start" fill="#262626" stroke="#262626" stroke-width="0.3" >9</text>
<text x="412.40" y="496.10" font-size="12.2" font-weight="normal" text-anchor="start" fill="#262626" stroke="#262626" stroke-width="0.3" >18</text>
<text x="470.00" y="496.10" font-size="12.2" font-weight="normal" text-anchor="middle" fill="#262626" stroke="#262626" stroke-width="0.3" >13</text>
<text x="507.50" y="496.10" font-size="12.2" font-weight="normal" text-anchor="start" fill="#262626" stroke="#262626" stroke-width="0.3" >70</text>
<text x="549.10" y="496.10" font-size="12.2" font-weight="normal" text-anchor="start" fill="#262626" stroke="#262626" stroke-width="0.3" >27</text>
<text x="594.30" y="496.10" font-size="12.2" font-weight="normal" text-anchor="start" fill="#262626" stroke="#262626" stroke-width="0.3" >24.5</text>
<text x="642.90" y="496.10" font-size="12.2" font-weight="normal" text-anchor="start" fill="#262626" stroke="#262626" stroke-width="0.3" >6.5</text>
<text x="686.70" y="496.10" font-size="12.2" font-weight="normal" text-anchor="start" fill="#262626" stroke="#262626" stroke-width="0.3" >6.5</text>
<text x="733.10" y="496.10" font-size="12.2" font-weight="normal" text-anchor="start" fill="#262626" stroke="#262626" stroke-width="0.3" >34</text>
<text x="793.60" y="496.10" font-size="12.2" font-weight="normal" text-anchor="start" fill="#262626" stroke="#262626" stroke-width="0.3" >M10</text>
<rect x="37.00" y="552.60" width="814.00" height="78.70" fill="#d9d6ee"/>
<rect x="37.00" y="631.30" width="92.50" height="135.30" fill="#d9d6ee"/>
<rect x="254.60" y="631.30" width="329.70" height="135.30" fill="#d9d6ee"/>
<rect x="584.30" y="631.30" width="125.30" height="135.30" fill="#d9d6ee"/>
<line x1="37.00" y1="551.80" x2="851.00" y2="551.80" stroke="#0d0d1a" stroke-width="2.0" />
<line x1="37.00" y1="631.30" x2="851.00" y2="631.30" stroke="#3d3d3d" stroke-width="1.2" />
<line x1="37.00" y1="766.40" x2="851.00" y2="766.40" stroke="#4a4a4a" stroke-width="1.2" />
<line x1="37.00" y1="574.80" x2="254.60" y2="574.80" stroke="#3d3d3d" stroke-width="1.0" />
<line x1="129.50" y1="613.70" x2="254.60" y2="613.70" stroke="#3d3d3d" stroke-width="1.0" />
<line x1="325.20" y1="594.30" x2="851.00" y2="594.30" stroke="#3d3d3d" stroke-width="1.0" />
<line x1="129.50" y1="574.80" x2="129.50" y2="766.00" stroke="#3d3d3d" stroke-width="1.0" />
<line x1="189.50" y1="613.70" x2="189.50" y2="766.00" stroke="#3d3d3d" stroke-width="1.0" />
<line x1="254.60" y1="552.30" x2="254.60" y2="766.00" stroke="#3d3d3d" stroke-width="1.0" />
<line x1="325.20" y1="552.30" x2="325.20" y2="766.00" stroke="#3d3d3d" stroke-width="1.0" />
<line x1="458.70" y1="552.30" x2="458.70" y2="766.00" stroke="#3d3d3d" stroke-width="1.0" />
<line x1="709.60" y1="552.30" x2="709.60" y2="766.00" stroke="#3d3d3d" stroke-width="1.0" />
<line x1="584.30" y1="594.30" x2="584.30" y2="766.00" stroke="#3d3d3d" stroke-width="1.0" />
<line x1="773.60" y1="594.30" x2="773.60" y2="766.00" stroke="#3d3d3d" stroke-width="1.0" />
<text x="146.70" y="567.80" font-size="12.2" font-weight="normal" text-anchor="middle" fill="#262626" stroke="#262626" stroke-width="0.3" >Bearing</text>
<text x="143.30" y="591.10" font-size="12.2" font-weight="normal" text-anchor="start" fill="#262626" stroke="#262626" stroke-width="0.3" textLength="94.1" lengthAdjust="spacingAndGlyphs">Basic&#160;&#160;load&#160;&#160;rating</text>
<text x="190.20" y="607.20" font-size="12.2" font-weight="normal" text-anchor="middle" fill="#262626" stroke="#262626" stroke-width="0.3" >(kN)</text>
<text x="51.30" y="607.20" font-size="12.2" font-weight="normal" text-anchor="start" fill="#262626" stroke="#262626" stroke-width="0.3" textLength="65" lengthAdjust="spacingAndGlyphs">Bearing&#160;&#160;No.</text>
<text x="158.3" y="626.7" font-size="12.2" font-weight="bold" text-anchor="middle" fill="#222">Cr</text>
<text x="221.9" y="626.7" font-size="12.2" font-weight="bold" text-anchor="middle" fill="#222">C<tspan font-size="9.5">0</tspan>r</text>
<text x="288.20" y="591.10" font-size="12.2" font-weight="normal" text-anchor="middle" fill="#262626" stroke="#262626" stroke-width="0.3" >Housing</text>
<text x="287.60" y="606.00" font-size="12.2" font-weight="normal" text-anchor="middle" fill="#262626" stroke="#262626" stroke-width="0.3" >No.</text>
<text x="358.40" y="571.70" font-size="11.7" font-weight="normal" text-anchor="start" fill="#262626" stroke="#262626" stroke-width="0.3" >Unit&#160;&#160;No.</text>
<text x="358.40" y="586.50" font-size="12.2" font-weight="normal" text-anchor="start" fill="#262626" stroke="#262626" stroke-width="0.3" textLength="63.2" lengthAdjust="spacingAndGlyphs">with&#160;&#160;covers</text>
<text x="354.50" y="617.10" font-size="12.2" font-weight="normal" text-anchor="start" fill="#262626" stroke="#262626" stroke-width="0.3" textLength="69.2" lengthAdjust="spacingAndGlyphs">Open(closed)</text>
<text x="514.80" y="576.60" font-size="12.2" font-weight="normal" text-anchor="start" fill="#262626" stroke="#262626" stroke-width="0.3" textLength="140" lengthAdjust="spacingAndGlyphs">Stainless&#160;&#160;steel&#160;&#160;cover&#160;&#160;No.</text>
<text x="518.70" y="617.60" font-size="12.2" font-weight="normal" text-anchor="middle" fill="#262626" stroke="#262626" stroke-width="0.3" >Open</text>
<text x="642.40" y="617.60" font-size="12.2" font-weight="normal" text-anchor="middle" fill="#262626" stroke="#262626" stroke-width="0.3" >Closed</text>
<text x="753.00" y="577.70" font-size="12.2" font-weight="normal" text-anchor="start" fill="#262626" stroke="#262626" stroke-width="0.3" textLength="53.3" lengthAdjust="spacingAndGlyphs">Weight (g)</text>
<text x="722.00" y="616.90" font-size="12.2" font-weight="normal" text-anchor="start" fill="#262626" stroke="#262626" stroke-width="0.3" textLength="38.4" lengthAdjust="spacingAndGlyphs">Normal</text>
<text x="784.00" y="616.90" font-size="12.2" font-weight="normal" text-anchor="start" fill="#262626" stroke="#262626" stroke-width="0.3" textLength="59.5" lengthAdjust="spacingAndGlyphs">With&#160;&#160;cover</text>
<text x="68.40" y="647.60" font-size="12.2" font-weight="bold" text-anchor="start" fill="#1a1a1a"  >K000</text>
<text x="151.90" y="647.60" font-size="12.2" font-weight="normal" text-anchor="start" fill="#262626" stroke="#262626" stroke-width="0.3" >4.6</text>
<text x="214.40" y="647.60" font-size="12.2" font-weight="normal" text-anchor="start" fill="#262626" stroke="#262626" stroke-width="0.3" >2</text>
<text x="269.20" y="647.60" font-size="12.2" font-weight="bold" text-anchor="start" fill="#1a1a1a"  >FL000</text>
<text x="357.60" y="647.60" font-size="12.2" font-weight="bold" text-anchor="start" fill="#1a1a1a"  >KFL000C(E)</text>
<text x="491.50" y="647.60" font-size="12.2" font-weight="normal" text-anchor="start" fill="#262626" stroke="#262626" stroke-width="0.3" >000CP10</text>
<text x="621.60" y="647.60" font-size="12.2" font-weight="normal" text-anchor="start" fill="#262626" stroke="#262626" stroke-width="0.3" >000CPE</text>
<text x="751.80" y="648.60" font-size="12.2" font-weight="normal" text-anchor="end" fill="#262626" stroke="#262626" stroke-width="0.3" >50</text>
<text x="822.40" y="647.60" font-size="12.2" font-weight="normal" text-anchor="end" fill="#262626" stroke="#262626" stroke-width="0.3" >55</text>
<text x="68.40" y="662.90" font-size="12.2" font-weight="bold" text-anchor="start" fill="#1a1a1a"  >K001</text>
<text x="151.90" y="662.90" font-size="12.2" font-weight="normal" text-anchor="start" fill="#262626" stroke="#262626" stroke-width="0.3" >5.1</text>
<text x="214.40" y="662.90" font-size="12.2" font-weight="normal" text-anchor="start" fill="#262626" stroke="#262626" stroke-width="0.3" >2.4</text>
<text x="269.20" y="662.90" font-size="12.2" font-weight="bold" text-anchor="start" fill="#1a1a1a"  >FL001</text>
<text x="357.60" y="662.90" font-size="12.2" font-weight="bold" text-anchor="start" fill="#1a1a1a"  >KFL001C(E)</text>
<text x="491.50" y="662.90" font-size="12.2" font-weight="normal" text-anchor="start" fill="#262626" stroke="#262626" stroke-width="0.3" >001CP12</text>
<text x="621.60" y="662.90" font-size="12.2" font-weight="normal" text-anchor="start" fill="#262626" stroke="#262626" stroke-width="0.3" >001CPE</text>
<text x="751.80" y="663.90" font-size="12.2" font-weight="normal" text-anchor="end" fill="#262626" stroke="#262626" stroke-width="0.3" >70</text>
<text x="822.40" y="662.90" font-size="12.2" font-weight="normal" text-anchor="end" fill="#262626" stroke="#262626" stroke-width="0.3" >74</text>
<text x="68.40" y="678.50" font-size="12.2" font-weight="bold" text-anchor="start" fill="#1a1a1a"  >K002</text>
<text x="151.90" y="678.50" font-size="12.2" font-weight="normal" text-anchor="start" fill="#262626" stroke="#262626" stroke-width="0.3" >5.6</text>
<text x="214.40" y="678.50" font-size="12.2" font-weight="normal" text-anchor="start" fill="#262626" stroke="#262626" stroke-width="0.3" >2.8</text>
<text x="269.20" y="678.50" font-size="12.2" font-weight="bold" text-anchor="start" fill="#1a1a1a"  >FL002</text>
<text x="357.60" y="678.50" font-size="12.2" font-weight="bold" text-anchor="start" fill="#1a1a1a"  >KFL002C(E)</text>
<text x="491.50" y="678.50" font-size="12.2" font-weight="normal" text-anchor="start" fill="#262626" stroke="#262626" stroke-width="0.3" >002CP15</text>
<text x="621.60" y="678.50" font-size="12.2" font-weight="normal" text-anchor="start" fill="#262626" stroke="#262626" stroke-width="0.3" >002CPE</text>
<text x="751.80" y="679.50" font-size="12.2" font-weight="normal" text-anchor="end" fill="#262626" stroke="#262626" stroke-width="0.3" >90</text>
<text x="822.40" y="678.50" font-size="12.2" font-weight="normal" text-anchor="end" fill="#262626" stroke="#262626" stroke-width="0.3" >95</text>
<text x="68.40" y="704.40" font-size="12.2" font-weight="bold" text-anchor="start" fill="#1a1a1a"  >K003</text>
<text x="151.90" y="704.40" font-size="12.2" font-weight="normal" text-anchor="start" fill="#262626" stroke="#262626" stroke-width="0.3" >6</text>
<text x="214.40" y="704.40" font-size="12.2" font-weight="normal" text-anchor="start" fill="#262626" stroke="#262626" stroke-width="0.3" >3.3</text>
<text x="269.20" y="704.40" font-size="12.2" font-weight="bold" text-anchor="start" fill="#1a1a1a"  >FL003</text>
<text x="357.60" y="704.40" font-size="12.2" font-weight="bold" text-anchor="start" fill="#1a1a1a"  >KFL003C(E)</text>
<text x="491.50" y="704.40" font-size="12.2" font-weight="normal" text-anchor="start" fill="#262626" stroke="#262626" stroke-width="0.3" >003CP17</text>
<text x="621.60" y="704.40" font-size="12.2" font-weight="normal" text-anchor="start" fill="#262626" stroke="#262626" stroke-width="0.3" >003CPE</text>
<text x="751.80" y="705.40" font-size="12.2" font-weight="normal" text-anchor="end" fill="#262626" stroke="#262626" stroke-width="0.3" >115</text>
<text x="822.40" y="704.40" font-size="12.2" font-weight="normal" text-anchor="end" fill="#262626" stroke="#262626" stroke-width="0.3" >121</text>
<text x="68.40" y="719.40" font-size="12.2" font-weight="bold" text-anchor="start" fill="#1a1a1a"  >K004</text>
<text x="151.90" y="719.40" font-size="12.2" font-weight="normal" text-anchor="start" fill="#262626" stroke="#262626" stroke-width="0.3" >9.35</text>
<text x="214.40" y="719.40" font-size="12.2" font-weight="normal" text-anchor="start" fill="#262626" stroke="#262626" stroke-width="0.3" >5.1</text>
<text x="269.20" y="719.40" font-size="12.2" font-weight="bold" text-anchor="start" fill="#1a1a1a"  >FL04-5</text>
<text x="357.60" y="719.40" font-size="12.2" font-weight="bold" text-anchor="start" fill="#1a1a1a"  >KFL004C(E)</text>
<text x="491.50" y="719.40" font-size="12.2" font-weight="normal" text-anchor="start" fill="#262626" stroke="#262626" stroke-width="0.3" >04-5CP20</text>
<text x="621.60" y="719.40" font-size="12.2" font-weight="normal" text-anchor="start" fill="#262626" stroke="#262626" stroke-width="0.3" >04-5CPE</text>
<text x="751.80" y="720.40" font-size="12.2" font-weight="normal" text-anchor="end" fill="#262626" stroke="#262626" stroke-width="0.3" >190</text>
<text x="822.40" y="719.40" font-size="12.2" font-weight="normal" text-anchor="end" fill="#262626" stroke="#262626" stroke-width="0.3" >200</text>
<text x="68.40" y="735.00" font-size="12.2" font-weight="bold" text-anchor="start" fill="#1a1a1a"  >K005</text>
<text x="145.40" y="735.00" font-size="12.2" font-weight="normal" text-anchor="start" fill="#262626" stroke="#262626" stroke-width="0.3" >10.1</text>
<text x="214.40" y="735.00" font-size="12.2" font-weight="normal" text-anchor="start" fill="#262626" stroke="#262626" stroke-width="0.3" >5.8</text>
<text x="269.20" y="735.00" font-size="12.2" font-weight="bold" text-anchor="start" fill="#1a1a1a"  >FL05-6</text>
<text x="357.60" y="735.00" font-size="12.2" font-weight="bold" text-anchor="start" fill="#1a1a1a"  >KFL005C(E)</text>
<text x="491.50" y="735.00" font-size="12.2" font-weight="normal" text-anchor="start" fill="#262626" stroke="#262626" stroke-width="0.3" >05-6CP25</text>
<text x="621.60" y="735.00" font-size="12.2" font-weight="normal" text-anchor="start" fill="#262626" stroke="#262626" stroke-width="0.3" >05-6CPE</text>
<text x="751.80" y="736.00" font-size="12.2" font-weight="normal" text-anchor="end" fill="#262626" stroke="#262626" stroke-width="0.3" >220</text>
<text x="822.40" y="735.00" font-size="12.2" font-weight="normal" text-anchor="end" fill="#262626" stroke="#262626" stroke-width="0.3" >231</text>
<text x="68.40" y="760.90" font-size="12.2" font-weight="bold" text-anchor="start" fill="#1a1a1a"  >K006</text>
<text x="145.40" y="760.90" font-size="12.2" font-weight="normal" text-anchor="start" fill="#262626" stroke="#262626" stroke-width="0.3" >13.2</text>
<text x="214.40" y="760.90" font-size="12.2" font-weight="normal" text-anchor="start" fill="#262626" stroke="#262626" stroke-width="0.3" >8.3</text>
<text x="269.20" y="760.90" font-size="12.2" font-weight="bold" text-anchor="start" fill="#1a1a1a"  >FL06-7</text>
<text x="357.60" y="760.90" font-size="12.2" font-weight="bold" text-anchor="start" fill="#1a1a1a"  >KFL006C(E)</text>
<text x="491.50" y="760.90" font-size="12.2" font-weight="normal" text-anchor="start" fill="#262626" stroke="#262626" stroke-width="0.3" >06-7CP30</text>
<text x="621.60" y="760.90" font-size="12.2" font-weight="normal" text-anchor="start" fill="#262626" stroke="#262626" stroke-width="0.3" >06-7CPE</text>
<text x="751.80" y="761.90" font-size="12.2" font-weight="normal" text-anchor="end" fill="#262626" stroke="#262626" stroke-width="0.3" >340</text>
<text x="822.40" y="760.90" font-size="12.2" font-weight="normal" text-anchor="end" fill="#262626" stroke="#262626" stroke-width="0.3" >356</text>
</svg>
</body></html>
